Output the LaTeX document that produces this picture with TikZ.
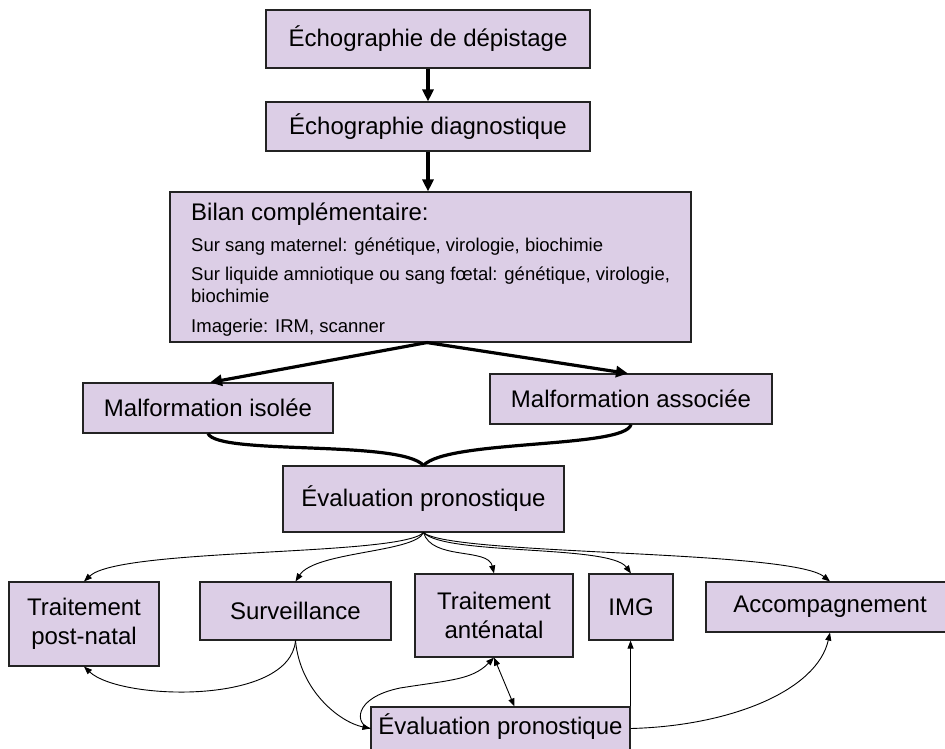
\documentclass[tikz,border=0pt]{standalone}
\usepackage{fontspec}
\setmainfont{Liberation Sans}
\usetikzlibrary{arrows.meta}
\definecolor{boxfill}{RGB}{220,206,230}
\definecolor{boxline}{RGB}{35,35,35}
\tikzset{
  stepbox/.style={draw=boxline, line width=1.1pt, fill=boxfill, inner sep=0pt,
    font=\fontsize{24}{28.8}\selectfont, align=center},
  bigflow/.style={line width=3.2pt, -{Triangle[length=12pt,width=11pt]}},
  merge/.style={line width=3.2pt},
  flow/.style={line width=0.9pt, -{Triangle[length=8pt,width=6pt]}},
  twoway/.style={line width=0.9pt, {Triangle[length=8pt,width=6pt]}-{Triangle[length=8pt,width=6pt]}},
  headline/.style={anchor=base west, inner sep=0pt, font=\fontsize{24}{28.8}\selectfont},
  detail/.style={anchor=base west, inner sep=0pt, font=\fontsize{18.5}{22.7}\selectfont},
}
\begin{document}
\begin{tikzpicture}[x=1pt,y=-1pt]
\useasboundingbox (0,0) rectangle (945,748);

% upper chain
\node[stepbox, minimum width=324pt, minimum height=58pt] (b1) at (428,39) {Échographie de dépistage};
\node[stepbox, minimum width=324pt, minimum height=49pt] (b2) at (428,126.5) {Échographie diagnostique};
\node[stepbox, minimum width=521pt, minimum height=150pt] (bilan) at (430.5,267) {};
\node[headline] (bilanhead) at (191,220) {Bilan complémentaire:};
\node[detail] (bilanl1) at (191,251) {Sur sang maternel: génétique, virologie, biochimie};
\node[detail] (bilanl2) at (191,280) {Sur liquide amniotique ou sang fœtal: génétique, virologie,};
\node[detail] (bilanl3) at (191,302.7) {biochimie};
\node[detail] (bilanl4) at (191,332.7) {Imagerie: IRM, scanner};

\node[stepbox, minimum width=250pt, minimum height=50pt] (iso) at (208,408) {Malformation isolée};
\node[stepbox, minimum width=282pt, minimum height=50pt] (assoc) at (631,399) {Malformation associée};
\node[stepbox, minimum width=281pt, minimum height=66pt] (eval1) at (423.5,499) {Évaluation pronostique};

% lower row
\node[stepbox, minimum width=150pt, minimum height=84pt] (post) at (84,624) {Traitement\\post-natal};
\node[stepbox, minimum width=191pt, minimum height=58pt] (surv) at (295.5,611) {Surveillance};
\node[stepbox, minimum width=158pt, minimum height=83pt] (ante) at (494,615.5) {Traitement\\anténatal};
\node[stepbox, minimum width=84pt, minimum height=66pt] (img) at (631,607) {IMG};
\node[stepbox, minimum width=248pt, minimum height=50pt] (acc) at (830,607) {Accompagnement};
\node[stepbox, minimum width=259pt, minimum height=43pt, text height=20pt, text depth=9pt] (eval2) at (500.5,728.5) {Évaluation pronostique};

% thick connectors
\draw[bigflow] (b1.south) -- (b1.south |- b2.north);
\draw[bigflow] (b2.south) -- (b2.south |- bilan.north);
\coordinate (split) at ([xshift=-3.5pt]bilan.south);
\draw[bigflow] (split) -- ([xshift=2pt]iso.north);
\draw[bigflow] (split) -- ([xshift=-3pt]assoc.north);
\draw[merge] (iso.south) .. controls +(10,22) and +(-23.5,-26) .. (eval1.north);
\draw[merge] (assoc.south) .. controls +(-6,24) and +(23.5,-26) .. (eval1.north);

% outcomes of the first evaluation
\draw[flow] (eval1.south) .. controls +(-23.5,24) and +(36,-34) .. (post.north);
\draw[flow] (eval1.south) .. controls +(-8.5,20) and +(19.5,-30) .. (surv.north);
\draw[flow] (eval1.south) .. controls +(8.5,28) and +(-6,-26) .. (ante.north);
\draw[flow] (eval1.south) .. controls +(21.5,23) and +(-21,-29) .. (img.north);
\draw[flow] (eval1.south) .. controls +(26.5,23) and +(-40,-32) .. (acc.north);

% follow-up loops
\draw[flow] (surv.south) .. controls +(-5.5,65) and +(36,34) .. (post.south);
\draw[flow] (surv.south) .. controls +(4.5,50) and +(-31,-6.5) .. (eval2.west);
\coordinate (loopmid) at (400,688);
\draw[flow] (eval2.west) .. controls (355,725) and (352,698) .. (loopmid)
  .. controls (450,680) and (472,680) .. (ante.south);
\draw[twoway] (ante.south) -- ([xshift=144pt]eval2.north west);
\draw[flow] (eval2.north east) -- (eval2.north east |- img.south);
\draw[flow] (eval2.east) .. controls +(100,-2.5) and +(-13,58) .. (acc.south);
\end{tikzpicture}
\end{document}
